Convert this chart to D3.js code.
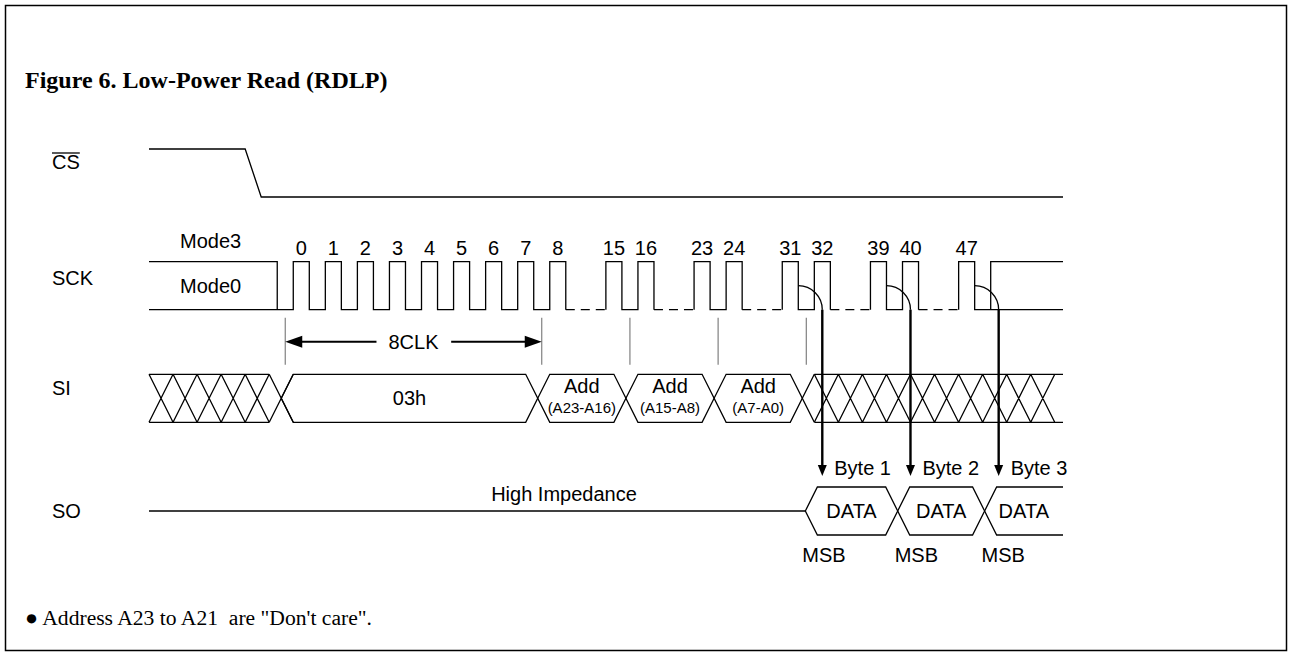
<!DOCTYPE html>
<html><head><meta charset="utf-8">
<script src="https://cdn.jsdelivr.net/npm/d3@7"></script>
<style>body{margin:0;background:#fff;overflow:hidden}</style>
</head><body>
<svg id="c" width="1292" height="655"></svg>
<script>
// ---------------- data ----------------
const title = "Figure 6. Low-Power Read (RDLP)";
const note = "\u25CF Address A23 to A21  are \"Don't care\".";
const signals = ["CS", "SCK", "SI", "SO"];
const clockGroups = [[0, 8], [15, 16], [23, 24], [31, 32], [39, 40], [47, 47]];
const clockLabels = [0, 1, 2, 3, 4, 5, 6, 7, 8, 15, 16, 23, 24, 31, 32, 39, 40, 47];
const csFall = [-1.5, -1.0];
const modeLabels = ["Mode3", "Mode0"];
const tickClocks = [0, 8, 16, 24, 32];
const spanLabel = "8CLK";
const siSegments = [
  { from: 0, to: 8, label: "03h", sub: "" },
  { from: 8, to: 16, label: "Add", sub: "(A23-A16)" },
  { from: 16, to: 24, label: "Add", sub: "(A15-A8)" },
  { from: 24, to: 32, label: "Add", sub: "(A7-A0)" }
];
const byteClocks = [31, 39, 47];
const byteLabels = ["Byte 1", "Byte 2", "Byte 3"];
const byteStarts = [31.72, 39.85, 47.81];
const dataLabel = "DATA";
const msbLabel = "MSB";
const hiZLabel = "High Impedance";

// ---------------- layout ----------------
const P = 32.06, GAP = 40.1, X0 = 149, X1 = 1063, H = 48;
const SANS = "'Liberation Sans', Arial, Helvetica, sans-serif";
const SERIF = "'Liberation Serif', 'Times New Roman', serif";
const FS = 20;
const svg = d3.select("#c");

svg.append("rect").attr("x", 5.5).attr("y", 5.5).attr("width", 1281).attr("height", 645)
  .attr("fill", "none").attr("stroke", "#000").attr("stroke-width", 1.5);

svg.append("text").attr("x", 25).attr("y", 88).text(title)
  .attr("font-family", SERIF).attr("font-weight", "bold").attr("font-size", 24);

svg.append("text").attr("x", 25).attr("y", 625).text(note).style("white-space", "pre")
  .attr("font-family", SERIF).attr("font-size", 21.6);

const rowY = d3.scalePoint().domain(signals).range([149, 487]);

// compressed time axis (breaks between clock groups)
const breaks = clockGroups.slice(0, -1).map((g, i) => [g[1] + 0.5, clockGroups[i + 1][0]]);
let tCur = -4.5, xCur = X0;
const dom = [tCur], rng = [xCur];
breaks.forEach(([a, b]) => {
  xCur += (a - tCur) * P; dom.push(a); rng.push(xCur);
  xCur += GAP; dom.push(b); rng.push(xCur); tCur = b;
});
dom.push(tCur + (X1 - xCur) / P); rng.push(X1);
const x = d3.scaleLinear().domain(dom).range(rng);

const line = d3.line();
const stroke = (sel, w) => sel.attr("fill", "none").attr("stroke", "#000").attr("stroke-width", w || 1.3);
const label = (tx, ty, s, size, anchor) => svg.append("text").attr("x", tx).attr("y", ty).text(s)
  .attr("font-family", SANS).attr("font-size", size || FS).attr("text-anchor", anchor || "start");

// signal names
const nameDy = { CS: 20, SCK: 23, SI: 21, SO: 31 };
signals.forEach(s => {
  const t = label(52, rowY(s) + nameDy[s], s);
  if (s === "CS") {
    const bb = t.node().getBBox();
    svg.append("line").attr("x1", bb.x).attr("x2", bb.x + bb.width)
      .attr("y1", bb.y + 2).attr("y2", bb.y + 2).attr("stroke", "#000").attr("stroke-width", 1.3);
  }
});

// ---------------- CS ----------------
{
  const hi = rowY("CS"), lo = hi + H;
  svg.append("path").attr("d", line([[X0, hi], [x(csFall[0]), hi], [x(csFall[1]), lo], [X1, lo]])).call(stroke);
}

// ---------------- SCK ----------------
const sHi = rowY("SCK"), sLo = sHi + H;
{
  svg.append("path").attr("d", line([[X0, sHi], [x(-0.5), sHi], [x(-0.5), sLo]])).call(stroke);
  let d = `M${X0},${sLo}`;
  clockGroups.forEach((g, gi) => {
    if (gi > 0) d += `M${x(g[0])},${sLo}`;
    for (let k = g[0]; k <= g[1]; k++) {
      d += `L${x(k)},${sLo}L${x(k)},${sHi}L${x(k + 0.5)},${sHi}L${x(k + 0.5)},${sLo}`;
      if (k < g[1]) d += `L${x(k + 1)},${sLo}`;
    }
  });
  const last = clockGroups[clockGroups.length - 1][1];
  d += `L${X1},${sLo}`;
  d += `M${x(last + 1)},${sLo}L${x(last + 1)},${sHi}L${X1},${sHi}`;
  svg.append("path").attr("d", d).call(stroke);
  breaks.forEach(([a, b]) => {
    svg.append("path").attr("d", line([[x(a), sLo], [x(b), sLo]])).call(stroke)
      .attr("stroke-dasharray", "9,6");
  });
  label(180, sHi - 14, modeLabels[0]);
  label(180, sHi + 31, modeLabels[1]);
  clockLabels.forEach(k => label(x(k + 0.25), sHi - 7, String(k), FS, "middle"));
}

// ticks and 8CLK span
{
  tickClocks.forEach(k => {
    svg.append("line").attr("x1", x(k - 0.25)).attr("x2", x(k - 0.25))
      .attr("y1", sLo + 8).attr("y2", sLo + 55).attr("stroke", "#808080").attr("stroke-width", 1.2);
  });
  const ya = sLo + 32, xa = x(tickClocks[0] - 0.25), xb = x(tickClocks[1] - 0.25);
  svg.append("line").attr("x1", xa + 10).attr("x2", xb - 10).attr("y1", ya).attr("y2", ya)
    .attr("stroke", "#000").attr("stroke-width", 2);
  svg.append("path").attr("d", `M${xa},${ya}L${xa + 17},${ya - 6}L${xa + 17},${ya + 6}Z`);
  svg.append("path").attr("d", `M${xb},${ya}L${xb - 17},${ya - 6}L${xb - 17},${ya + 6}Z`);
  const t = label((xa + xb) / 2, ya + 7, spanLabel, FS, "middle");
  const bb = t.node().getBBox();
  svg.insert("rect", "text:last-of-type").attr("x", bb.x - 12).attr("y", ya - 4)
    .attr("width", bb.width + 24).attr("height", 8).attr("fill", "#fff");
  t.raise();
}

// ---------------- SI ----------------
const iTop = rowY("SI"), iBot = iTop + H, iMid = iTop + H / 2;
const C = 0.75 * P;
function hatch(xs, xe, nCells) {
  let d = `M${xs},${iTop}L${xe},${iTop}M${xs},${iBot}L${xe},${iBot}`;
  for (let i = 0; i < nCells; i++) {
    const a = xs + i * C, b = a + C;
    d += `M${a},${iTop}L${b},${iBot}M${a},${iBot}L${b},${iTop}`;
  }
  svg.append("path").attr("d", d).call(stroke);
}
{
  const first = siSegments[0].from, lastSeg = siSegments[siSegments.length - 1].to;
  hatch(X0, x(first - 0.75), Math.round((x(first) - X0) / C));
  siSegments.forEach(s => {
    const pts = [[x(s.from - 0.375), iMid], [x(s.from), iTop], [x(s.to - 0.75), iTop],
                 [x(s.to - 0.375), iMid], [x(s.to - 0.75), iBot], [x(s.from), iBot]];
    svg.append("path").attr("d", line(pts) + "Z").call(stroke);
    const cx = (x(s.from - 0.375) + x(s.to - 0.375)) / 2;
    if (s.sub) {
      label(cx, iTop + 19, s.label, FS, "middle");
      label(cx, iTop + 39, s.sub, 15, "middle");
    } else {
      label(cx, iMid + 7, s.label, FS, "middle");
    }
  });
  const xs = x(lastSeg);
  svg.append("path").attr("d", line([[xs, iTop], [x(lastSeg - 0.375), iMid], [xs, iBot]])).call(stroke);
  hatch(xs, X1, Math.floor((X1 - xs) / C));
}

// ---------------- SO ----------------
const oTop = rowY("SO"), oBot = oTop + H, oMid = oTop + H / 2;
const hw = 0.375 * P;
{
  svg.append("path").attr("d", line([[X0, oMid], [x(byteStarts[0]), oMid]])).call(stroke);
  label(564, oTop + 14, hiZLabel, FS, "middle");
  byteStarts.forEach((b, i) => {
    const xl = x(b);
    const xr = i < byteStarts.length - 1 ? x(byteStarts[i + 1]) : null;
    if (xr !== null) {
      svg.append("path").attr("d", line([[xl, oMid], [xl + hw, oTop], [xr - hw, oTop], [xr, oMid], [xr - hw, oBot], [xl + hw, oBot]]) + "Z").call(stroke);
    } else {
      svg.append("path").attr("d", line([[X1, oTop], [xl + hw, oTop], [xl, oMid], [xl + hw, oBot], [X1, oBot]])).call(stroke);
    }
    const cx = ((xr !== null ? xr : X1) + xl) / 2;
    label(cx, oMid + 7, dataLabel, FS, "middle");
    label(xl - 3, oBot + 27, msbLabel, FS, "start");
  });
}

// ---------------- arcs + arrows ----------------
{
  const r = H / 2, tipY = oTop - 11;
  byteClocks.forEach((c, i) => {
    const xf = x(c + 0.5), ax = xf + r;
    svg.append("path").attr("d", `M${xf},${sLo - r}A${r},${r} 0 0 1 ${ax},${sLo}`).call(stroke);
    svg.append("line").attr("x1", ax).attr("x2", ax).attr("y1", sLo).attr("y2", tipY - 8)
      .attr("stroke", "#000").attr("stroke-width", 2.4);
    svg.append("path").attr("d", `M${ax - 4.5},${tipY - 11}L${ax + 4.5},${tipY - 11}L${ax},${tipY}Z`);
    label(ax + 12, tipY - 1, byteLabels[i]);
  });
}
</script>
</body></html>
